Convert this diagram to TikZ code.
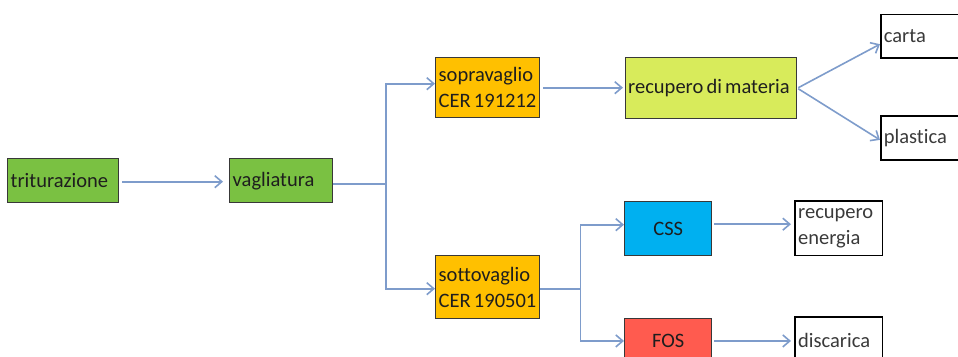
\documentclass[tikz,border=0pt]{standalone}
\usepackage{fontspec}
\setmainfont{Carlito}[Ligatures=NoCommon]
\usetikzlibrary{arrows.meta,calc}
\definecolor{grn}{HTML}{7AC142}
\definecolor{ylg}{HTML}{D8EB5B}
\definecolor{org}{HTML}{FFC000}
\definecolor{sky}{HTML}{00B0F0}
\definecolor{rdo}{HTML}{FF5B4F}
\definecolor{arc}{HTML}{7E9CCB}
\definecolor{bord}{HTML}{383838}
\definecolor{txt}{HTML}{1E1E1E}
\definecolor{wtxt}{HTML}{3A3A3A}
\newcommand{\boxfont}{\fontsize{20.5}{26.5}\selectfont}
\newcommand{\wsp}{\hspace{3.2pt}}
\tikzset{
  basebox/.style={draw=bord, line width=1.4pt, rectangle, inner sep=0pt, anchor=north west,
    font=\boxfont, text=txt, align=left},
  greenbox/.style={basebox, fill=grn},
  limebox/.style={basebox, fill=ylg},
  orangebox/.style={basebox, fill=org},
  bluebox/.style={basebox, fill=sky, align=center},
  redbox/.style={basebox, fill=rdo, align=center},
  whitebox/.style={basebox, draw=black, line width=1.8pt, fill=white, text=wtxt},
  conn/.style={draw=arc, line width=1.6pt},
  arr/.style={conn, -{Straight Barb[length=7pt,width=12pt,line width=1.6pt]}}
}
\begin{document}
\begin{tikzpicture}[x=1pt,y=-1pt]
\useasboundingbox (0,0) rectangle (958,356);
% boxes
\node[greenbox, minimum width=111pt, minimum height=44pt, text width=105pt] (trit) at (7,158) {\mbox{triturazione}};
\node[greenbox, minimum width=103pt, minimum height=44pt, text width=97pt] (vagl) at (229,158) {\mbox{vagliatura}};
\node[orangebox, minimum width=104pt, minimum height=60pt, text width=98pt] (sopra) at (435,57) {\mbox{sopravaglio}\\\mbox{CER\wsp191212}};
\node[orangebox, minimum width=104pt, minimum height=63pt, text width=98pt] (sotto) at (435,255) {\mbox{sottovaglio}\\\mbox{CER\wsp190501}};
\node[limebox, minimum width=171pt, minimum height=61pt, text width=166pt] (recmat) at (625,57) {\mbox{recupero\wsp di\wsp materia}};
\node[whitebox, minimum width=84pt, minimum height=43.5pt, text width=78pt] (carta) at (880,13.5) {\mbox{carta}};
\node[whitebox, minimum width=84pt, minimum height=44pt, text width=78pt] (plast) at (880,115) {\mbox{plastica}};
\node[bluebox, minimum width=87pt, minimum height=54pt, text width=81pt] (css) at (624,201) {CSS};
\node[redbox, minimum width=87pt, minimum height=45.5pt, text width=81pt] (fos) at (624,317.5) {FOS};
\node[whitebox, minimum width=87.5pt, minimum height=54.5pt, text width=81pt] (recen) at (794,200) {\mbox{recupero}\\\mbox{energia}};
\node[whitebox, minimum width=87.5pt, minimum height=47pt, text width=81pt] (disc) at (794,316) {\mbox{discarica}};
% branch points
\coordinate (b1) at (386,184);
\coordinate (b2) at (580.5,289);
% connectors
\draw[arr, shorten <=3pt, shorten >=6pt] ([yshift=-1pt]trit.east) -- ([yshift=-1pt]trit.east -| vagl.west);
\draw[conn] (b1 -| vagl.east) -- (b1);
\draw[arr] (b1) |- ([yshift=4pt]sopra.west);
\draw[arr] (b1) |- ([yshift=-1.5pt]sotto.west);
\draw[arr, shorten <=3pt, shorten >=2pt] (sopra.east) -- (sopra.east -| recmat.west);
\draw[arr, shorten <=1pt] (recmat.east) -- ([yshift=-8pt]carta.west);
\draw[arr, shorten <=1pt] (recmat.east) -- ([yshift=-2pt]plast.west);
\draw[conn] (b2 -| sotto.east) -- (b2);
\draw[arr] (b2) |- ([yshift=4pt]css.west);
\draw[arr] (b2) |- (fos.west);
\draw[arr, shorten <=2pt, shorten >=3pt] ([yshift=4.5pt]css.east) -- ([yshift=4.5pt]css.east -| recen.west);
\draw[arr, shorten <=2pt, shorten >=3pt] (fos.east) -- (fos.east -| disc.west);
\end{tikzpicture}
\end{document}
